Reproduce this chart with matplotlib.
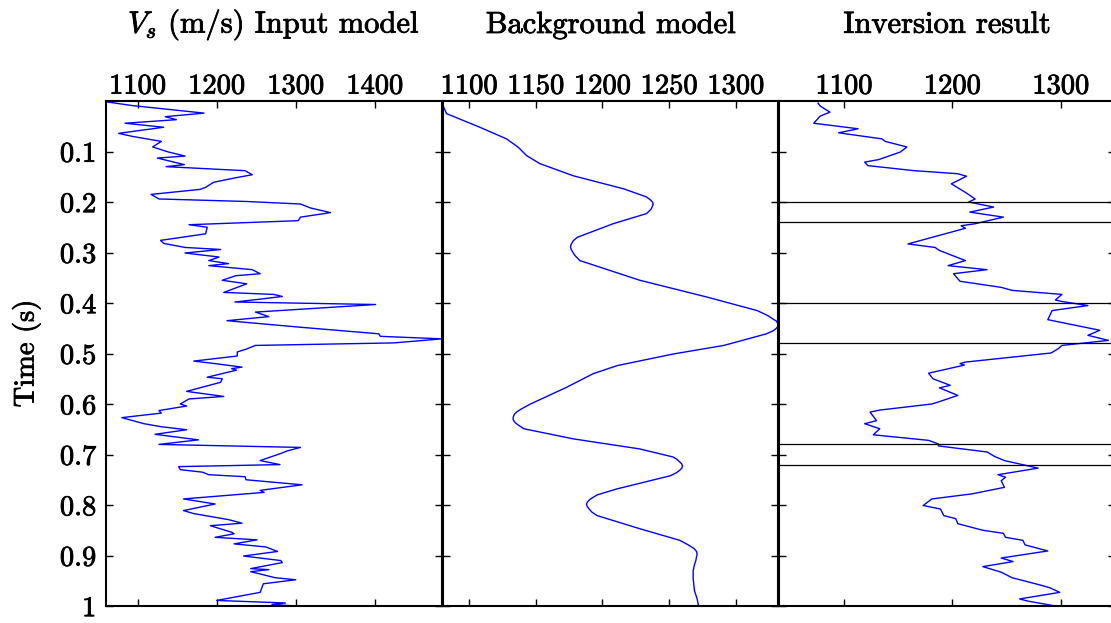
import matplotlib
matplotlib.use("Agg")
import matplotlib.pyplot as plt
import matplotlib.patheffects as pe

plt.rcParams['font.family'] = ['cmr10', 'DejaVu Serif']
plt.rcParams['mathtext.fontset'] = 'cm'
plt.rcParams['axes.formatter.use_mathtext'] = True

# ---------------- data ----------------
t_input = [0.002, 0.009, 0.024, 0.031, 0.037, 0.044, 0.052, 0.064, 0.070, 0.080,
           0.091, 0.101, 0.109, 0.113, 0.126, 0.130, 0.138, 0.146, 0.152, 0.161,
           0.171, 0.175, 0.185, 0.194, 0.199, 0.204, 0.212, 0.221, 0.230, 0.237,
           0.245, 0.250, 0.263, 0.276, 0.282, 0.290, 0.294, 0.301, 0.309, 0.316,
           0.322, 0.326, 0.334, 0.342, 0.346, 0.355, 0.362, 0.379, 0.383, 0.387,
           0.392, 0.398, 0.403, 0.418, 0.427, 0.435, 0.448, 0.461, 0.466, 0.471,
           0.479, 0.484, 0.491, 0.497, 0.505, 0.515, 0.520, 0.527, 0.530, 0.533,
           0.547, 0.550, 0.557, 0.575, 0.585, 0.590, 0.600, 0.604, 0.613, 0.618,
           0.627, 0.639, 0.645, 0.651, 0.660, 0.671, 0.680, 0.686, 0.693, 0.698,
           0.712, 0.720, 0.724, 0.730, 0.735, 0.740, 0.744, 0.750, 0.760, 0.771,
           0.775, 0.788, 0.798, 0.811, 0.817, 0.829, 0.836, 0.841, 0.854, 0.857,
           0.864, 0.869, 0.877, 0.883, 0.892, 0.901, 0.910, 0.914, 0.926, 0.928,
           0.932, 0.944, 0.948, 0.956, 0.973, 0.989, 0.994, 0.997, 1.000]
vs_input = [1062, 1093, 1184, 1135, 1149, 1084, 1133, 1076, 1093, 1130,
            1119, 1139, 1160, 1125, 1159, 1136, 1236, 1245, 1224, 1196,
            1186, 1179, 1117, 1127, 1238, 1306, 1319, 1344, 1306, 1303,
            1165, 1188, 1186, 1129, 1133, 1160, 1205, 1160, 1203, 1190,
            1215, 1190, 1245, 1255, 1224, 1207, 1238, 1209, 1272, 1283,
            1257, 1223, 1401, 1249, 1266, 1213, 1306, 1405, 1407, 1485,
            1424, 1249, 1238, 1226, 1226, 1171, 1198, 1232, 1219, 1225,
            1188, 1207, 1205, 1162, 1209, 1165, 1154, 1162, 1127, 1130,
            1080, 1108, 1130, 1162, 1122, 1177, 1127, 1306, 1289, 1281,
            1255, 1280, 1152, 1154, 1182, 1190, 1236, 1237, 1308, 1255,
            1260, 1158, 1198, 1158, 1171, 1215, 1232, 1192, 1219, 1222,
            1198, 1251, 1222, 1262, 1277, 1234, 1281, 1283, 1243, 1266,
            1243, 1274, 1300, 1259, 1255, 1200, 1287, 1270, 1300]

t_bg = [0.002, 0.010, 0.025, 0.052, 0.075, 0.092, 0.108, 0.124, 0.148, 0.174,
        0.190, 0.196, 0.200, 0.204, 0.208, 0.214, 0.218, 0.223, 0.243, 0.270,
        0.277, 0.284, 0.289, 0.294, 0.305, 0.316, 0.355, 0.388, 0.415, 0.425,
        0.432, 0.436, 0.441, 0.446, 0.450, 0.455, 0.461, 0.484, 0.501, 0.524,
        0.540, 0.567, 0.600, 0.610, 0.615, 0.620, 0.626, 0.631, 0.637, 0.642,
        0.649, 0.669, 0.689, 0.705, 0.710, 0.716, 0.719, 0.723, 0.727, 0.731,
        0.736, 0.742, 0.768, 0.780, 0.788, 0.793, 0.798, 0.803, 0.808, 0.814,
        0.821, 0.847, 0.870, 0.880, 0.887, 0.892, 0.897, 0.903, 0.910, 0.918,
        0.930, 0.946, 0.970, 0.986, 1.000]
vs_bg = [1080, 1080.5, 1083, 1108, 1128, 1137, 1143, 1153, 1178, 1216,
         1233, 1236, 1237.5, 1238, 1237.5, 1236.5, 1235, 1233, 1208, 1181,
         1178, 1176.5, 1176, 1176.5, 1179, 1183, 1228, 1278, 1316, 1324,
         1328, 1330.5, 1331.5, 1331.5, 1330.5, 1328, 1323, 1291, 1253, 1211,
         1193, 1173, 1146, 1139, 1136, 1134, 1133, 1133, 1134.5, 1137,
         1141, 1178, 1228, 1253, 1256, 1258.5, 1259.5, 1260, 1259.5, 1258,
         1255.5, 1251, 1211, 1196, 1191, 1189, 1188, 1188.5, 1190, 1192,
         1196, 1228, 1258, 1265, 1269, 1270.5, 1271, 1270.5, 1270, 1269,
         1268, 1268, 1269, 1271, 1272]

t_inv = [0.004, 0.010, 0.022, 0.030, 0.044, 0.055, 0.063, 0.075, 0.080, 0.091,
         0.101, 0.116, 0.121, 0.128, 0.138, 0.144, 0.149, 0.164, 0.181, 0.194,
         0.200, 0.210, 0.220, 0.230, 0.243, 0.247, 0.252, 0.283, 0.290, 0.296,
         0.316, 0.326, 0.334, 0.342, 0.357, 0.369, 0.375, 0.383, 0.394, 0.397,
         0.405, 0.415, 0.433, 0.454, 0.464, 0.474, 0.484, 0.490, 0.499, 0.517,
         0.520, 0.523, 0.539, 0.550, 0.563, 0.568, 0.583, 0.596, 0.600, 0.612,
         0.616, 0.633, 0.639, 0.649, 0.661, 0.672, 0.679, 0.683, 0.695, 0.704,
         0.712, 0.727, 0.740, 0.745, 0.752, 0.765, 0.778, 0.788, 0.801, 0.808,
         0.821, 0.827, 0.837, 0.850, 0.856, 0.864, 0.870, 0.879, 0.891, 0.905,
         0.912, 0.922, 0.933, 0.944, 0.959, 0.964, 0.973, 0.986, 0.990, 1.000]
vs_inv = [1076, 1078, 1087, 1078, 1072, 1113, 1095, 1135, 1138, 1158,
          1152, 1132, 1119, 1122, 1165, 1205, 1213, 1199, 1212, 1221,
          1215, 1238, 1216, 1247, 1221, 1208, 1212, 1159, 1184, 1188,
          1212, 1196, 1232, 1201, 1207, 1245, 1255, 1301, 1295, 1301,
          1325, 1292, 1288, 1336, 1325, 1344, 1301, 1298, 1291, 1212,
          1207, 1211, 1178, 1182, 1198, 1188, 1205, 1187, 1181, 1133,
          1124, 1130, 1119, 1133, 1127, 1178, 1187, 1187, 1232, 1239,
          1248, 1279, 1242, 1249, 1245, 1248, 1218, 1181, 1173, 1189,
          1192, 1203, 1205, 1228, 1247, 1249, 1265, 1267, 1288, 1245,
          1256, 1228, 1245, 1255, 1282, 1290, 1299, 1262, 1269, 1295]

layer_times = [0.20, 0.24, 0.40, 0.48, 0.68, 0.72]

titles = [r"$V_s$ (m/s) Input model", "Background model", "Inversion result"]
xlims = [(1060, 1485), (1080, 1332), (1040, 1350)]
xticks = [[1100, 1200, 1300, 1400], [1100, 1150, 1200, 1250, 1300], [1100, 1200, 1300]]
yticks = [0.1, 0.2, 0.3, 0.4, 0.5, 0.6, 0.7, 0.8, 0.9, 1.0]
ytick_labels = ["0.1", "0.2", "0.3", "0.4", "0.5", "0.6", "0.7", "0.8", "0.9", "1"]

# ---------------- figure ----------------
W, H = 1111, 623
fig = plt.figure(figsize=(W / 100, H / 100), dpi=100)

lefts = [106, 442.5, 779]
pw, top, bot = 336, 101, 606
axes = []
for L in lefts:
    ax = fig.add_axes([L / W, (H - bot) / H, pw / W, (bot - top) / H])
    axes.append(ax)

heavy = [pe.withStroke(linewidth=0.6, foreground='black')]
series = [(t_input, vs_input), (t_bg, vs_bg), (t_inv, vs_inv)]
FS = 20.5
FT = 22
for i, ax in enumerate(axes):
    t, v = series[i]
    ax.plot(v, t, color='#0000ff', lw=1.0)
    ax.set_xlim(*xlims[i])
    ax.set_ylim(1.0, 0.0)
    ax.xaxis.set_ticks_position('both')
    ax.set_xticks(xticks[i])
    ax.set_xticklabels([str(x) for x in xticks[i]], fontsize=FS)
    ax.tick_params(axis='x', which='both', direction='in', top=True, bottom=True,
                   labeltop=True, labelbottom=False, length=5, width=1, pad=1)
    ax.set_yticks(yticks)
    ax.tick_params(axis='y', which='both', direction='in', left=True, right=True,
                   length=5, width=1, pad=7)
    if i == 0:
        ax.set_yticklabels(ytick_labels, fontsize=FS)
        ax.set_ylabel("Time (s)", fontsize=FS, va='center')
        ax.yaxis.set_label_coords((26 - 106) / pw, 0.5)
        ax.yaxis.label.set_path_effects(heavy)
    else:
        ax.set_yticklabels([])
    for lab in ax.get_xticklabels() + ax.get_yticklabels():
        lab.set_path_effects(heavy)
    for s in ax.spines.values():
        s.set_linewidth(1.5)
        s.set_color('black')
    ax.text(0.5, (bot - 25) / (bot - top), titles[i], transform=ax.transAxes,
            ha='center', va='center', fontsize=FT, path_effects=heavy)

for lt in layer_times:
    axes[2].axhline(lt, color='black', lw=0.9)

fig.savefig("out.png", dpi=100)
